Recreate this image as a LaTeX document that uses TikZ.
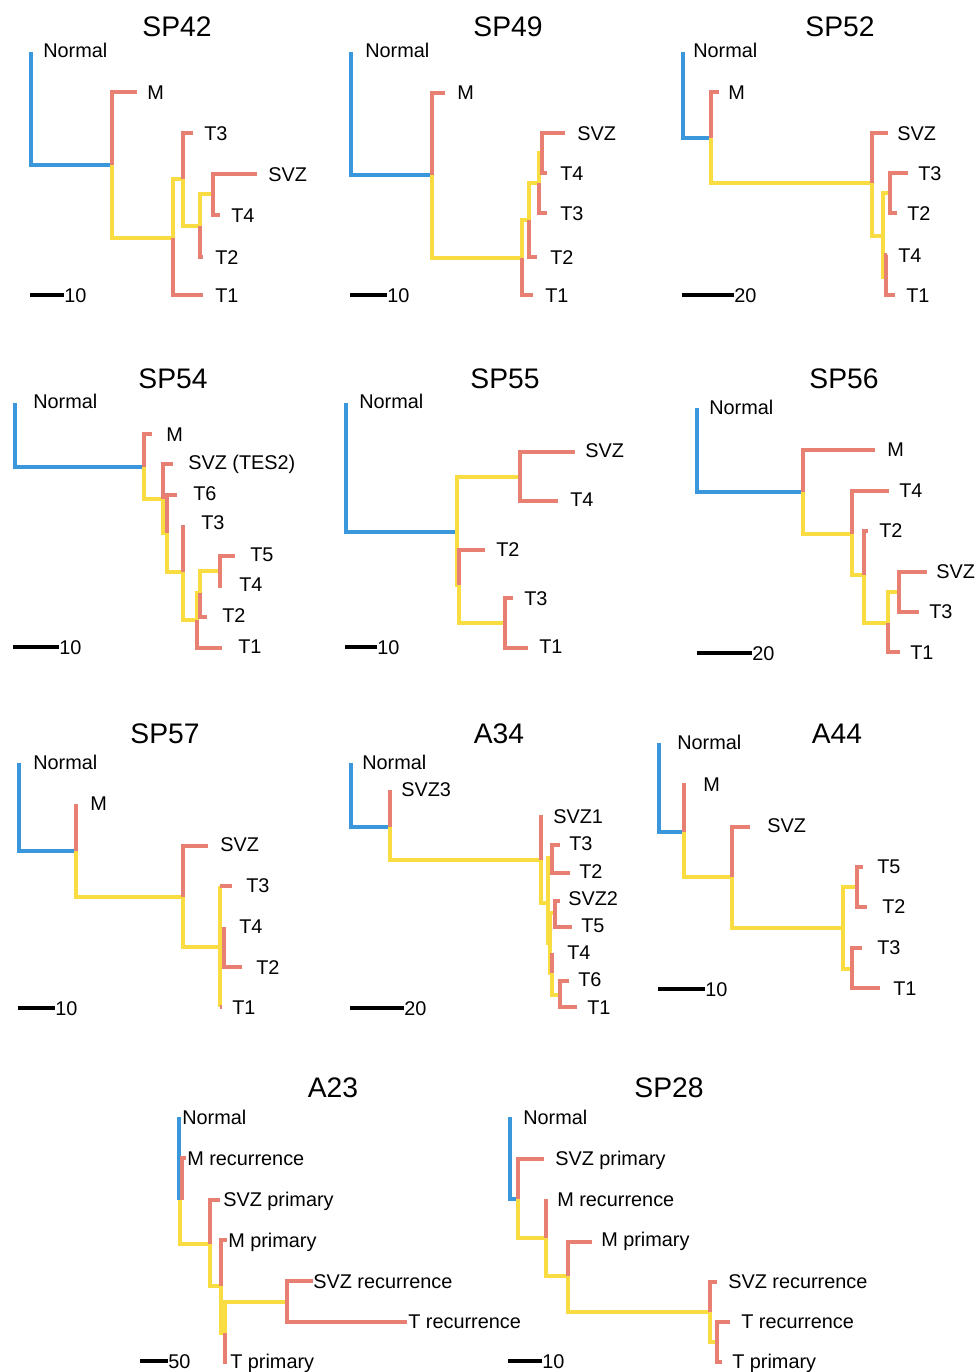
\documentclass[tikz,border=0pt]{standalone}
\usepackage{fontspec}
\setmainfont{Liberation Sans}
\usepackage{tikz}
\usepackage{xcolor}
\definecolor{nblue}{RGB}{58,151,219}
\definecolor{tsalmon}{RGB}{231,128,114}
\definecolor{ayellow}{RGB}{249,219,66}

\begin{document}
\begin{tikzpicture}[
    x=0.75pt, y=-0.75pt,
    br/.style={line width=2.4pt},
    nrm/.style={br, draw=nblue},
    tum/.style={br, draw=tsalmon},
    anc/.style={br, draw=ayellow},
    sbar/.style={line width=2.4pt, draw=black},
    lab/.style={anchor=west, inner sep=0pt, text height=10.6pt, text depth=0pt, font=\fontsize{14.9}{17}\selectfont},
    ttl/.style={anchor=center, inner sep=0pt, text height=15.2pt, text depth=0pt, font=\fontsize{21.2}{24}\selectfont}
]

\path[fill=white, use as bounding box] (0,0) rectangle (976,1372);

\node[ttl] (sp42) at (177,26) {SP42};
\draw[nrm] (112,165) -| (31,52);
\draw[tum] (112,165) |- (137,92);
\draw[anc] (112,165) |- (173,238);
\draw[tum] (173,238) |- (203,295);
\draw[anc] (173,238) |- (183,179);
\draw[tum] (183,179) |- (193,133);
\draw[anc] (183,179) |- (200,226);
\draw[tum] (200,226) |- (203,257);
\draw[anc] (200,226) |- (213,194);
\draw[tum] (213,194) |- (257,174);
\draw[tum] (213,194) |- (220,215);
\node[lab] (sp42n) at (43,50) {Normal};
\node[lab] (sp42m) at (147,92) {M};
\node[lab] (sp42t3) at (204,133) {T3};
\node[lab] (sp42svz) at (268,174) {SVZ};
\node[lab] (sp42t4) at (231,215) {T4};
\node[lab] (sp42t2) at (215,257) {T2};
\node[lab] (sp42t1) at (215,295) {T1};
\node[lab] (sp42s) at (64,295) {10};
\draw[sbar] (30,295) -- (sp42s.west);

\node[ttl] (sp49) at (508,26) {SP49};
\draw[nrm] (432,175) -| (351,52);
\draw[tum] (432,175) |- (445,93);
\draw[anc] (432,175) |- (522,258);
\draw[tum] (522,258) |- (533,295);
\draw[anc] (522,258) |- (529,220);
\draw[tum] (529,220) |- (537,257);
\draw[anc] (529,220) |- (539,183);
\draw[tum] (539,183) |- (547,213);
\draw[anc] (539,183) |- (542,153);
\draw[tum] (542,153) |- (565,133);
\draw[tum] (542,153) |- (547,173);
\node[lab] (sp49n) at (365,50) {Normal};
\node[lab] (sp49m) at (457,92) {M};
\node[lab] (sp49svz) at (577,133) {SVZ};
\node[lab] (sp49t4) at (560,173) {T4};
\node[lab] (sp49t3) at (560,213) {T3};
\node[lab] (sp49t2) at (550,257) {T2};
\node[lab] (sp49t1) at (545,295) {T1};
\node[lab] (sp49s) at (387,295) {10};
\draw[sbar] (350,295) -- (sp49s.west);

\node[ttl] (sp52) at (840,26) {SP52};
\draw[nrm] (711,138) -| (683,52);
\draw[tum] (711,138) |- (719,92);
\draw[anc] (711,138) |- (872,183);
\draw[tum] (872,183) |- (888,133);
\draw[anc] (872,183) |- (883,236);
\draw[anc] (883,236) |- (890,193);
\draw[tum] (890,193) |- (908,173);
\draw[tum] (890,193) |- (897,213);
\draw[anc] (883,236) |- (886,277);
\draw[tum] (886,277) |- (887,255);
\draw[tum] (886,277) |- (895,295);
\node[lab] (sp52n) at (693,50) {Normal};
\node[lab] (sp52m) at (728,92) {M};
\node[lab] (sp52svz) at (897,133) {SVZ};
\node[lab] (sp52t3) at (918,173) {T3};
\node[lab] (sp52t2) at (907,213) {T2};
\node[lab] (sp52t4) at (898,255) {T4};
\node[lab] (sp52t1) at (906,295) {T1};
\node[lab] (sp52s) at (734,295) {20};
\draw[sbar] (682,295) -- (sp52s.west);

\node[ttl] (sp54) at (173,378) {SP54};
\draw[nrm] (144,467) -| (15,403);
\draw[tum] (144,467) |- (152,434);
\draw[anc] (144,467) |- (163,499);
\draw[tum] (163,499) |- (173,464);
\draw[anc] (163,499) |- (167,533);
\draw[tum] (167,533) |- (177,495);
\draw[anc] (167,533) |- (183,572);
\draw[tum] (183,572) -- (183,525);
\draw[anc] (183,572) |- (197,620);
\draw[tum] (197,620) |- (222,648);
\draw[anc] (197,620) |- (200,593);
\draw[tum] (200,593) |- (207,617);
\draw[anc] (200,593) |- (220,571);
\draw[tum] (220,571) |- (235,556);
\draw[tum] (220,571) -- (220,588);
\node[lab] (sp54n) at (33,401) {Normal};
\node[lab] (sp54m) at (166,434) {M};
\node[lab] (sp54svz) at (188,462) {SVZ (TES2)};
\node[lab] (sp54t6) at (193,493) {T6};
\node[lab] (sp54t3) at (201,522) {T3};
\node[lab] (sp54t5) at (250,554) {T5};
\node[lab] (sp54t4) at (239,584) {T4};
\node[lab] (sp54t2) at (222,615) {T2};
\node[lab] (sp54t1) at (238,646) {T1};
\node[lab] (sp54s) at (59,647) {10};
\draw[sbar] (13,647) -- (sp54s.west);

\node[ttl] (sp55) at (505,378) {SP55};
\draw[nrm] (457,532) -| (346,403);
\draw[anc] (457,532) |- (520,477);
\draw[tum] (520,477) |- (575,452);
\draw[tum] (520,477) |- (558,501);
\draw[anc] (457,532) |- (459,585);
\draw[tum] (459,585) |- (485,550);
\draw[anc] (459,585) |- (505,623);
\draw[tum] (505,623) |- (513,598);
\draw[tum] (505,623) |- (528,648);
\node[lab] (sp55n) at (359,401) {Normal};
\node[lab] (sp55svz) at (585,450) {SVZ};
\node[lab] (sp55t4) at (570,499) {T4};
\node[lab] (sp55t2) at (496,549) {T2};
\node[lab] (sp55t3) at (524,598) {T3};
\node[lab] (sp55t1) at (539,646) {T1};
\node[lab] (sp55s) at (377,647) {10};
\draw[sbar] (345,647) -- (sp55s.west);

\node[ttl] (sp56) at (844,378) {SP56};
\draw[nrm] (803,492) -| (697,408);
\draw[tum] (803,492) |- (875,450);
\draw[anc] (803,492) |- (852,534);
\draw[tum] (852,534) |- (889,491);
\draw[anc] (852,534) |- (864,575);
\draw[tum] (864,575) |- (868,531);
\draw[anc] (864,575) |- (888,623);
\draw[anc] (888,623) |- (899,592);
\draw[tum] (899,592) |- (927,572);
\draw[tum] (899,592) |- (919,612);
\draw[tum] (888,623) |- (900,652);
\node[lab] (sp56n) at (709,407) {Normal};
\node[lab] (sp56m) at (887,449) {M};
\node[lab] (sp56t4) at (899,490) {T4};
\node[lab] (sp56t2) at (879,530) {T2};
\node[lab] (sp56svz) at (936,571) {SVZ};
\node[lab] (sp56t3) at (929,611) {T3};
\node[lab] (sp56t1) at (910,652) {T1};
\node[lab] (sp56s) at (752,653) {20};
\draw[sbar] (697,653) -- (sp56s.west);

\node[ttl] (sp57) at (165,733) {SP57};
\draw[nrm] (76,851) -| (19,763);
\draw[tum] (76,851) -- (76,804);
\draw[anc] (76,851) |- (183,897);
\draw[tum] (183,897) |- (208,846);
\draw[anc] (183,897) |- (220,947);
\draw[anc] (220,947) -- (220,886);
\draw[tum] (220,886) -- (232,886);
\draw[anc] (220,947) -- (220,1007);
\draw[tum] (220,1007) -- (222,1007);
\draw[anc] (220,947) -- (224,947);
\draw[tum] (224,947) -- (224,927);
\draw[tum] (224,947) |- (242,967);
\node[lab] (sp57n) at (33,762) {Normal};
\node[lab] (sp57m) at (90,803) {M};
\node[lab] (sp57svz) at (220,844) {SVZ};
\node[lab] (sp57t3) at (246,885) {T3};
\node[lab] (sp57t4) at (239,926) {T4};
\node[lab] (sp57t2) at (256,967) {T2};
\node[lab] (sp57t1) at (232,1007) {T1};
\node[lab] (sp57s) at (55,1008) {10};
\draw[sbar] (18,1008) -- (sp57s.west);

\node[ttl] (a34) at (499,733) {A34};
\draw[nrm] (390,827) -| (351,763);
\draw[tum] (390,827) -- (390,790);
\draw[anc] (390,827) |- (541,860);
\draw[tum] (541,860) |- (543,817);
\draw[anc] (541,860) |- (548,903);
\draw[anc] (548,903) |- (552,858);
\draw[tum] (552,858) |- (560,845);
\draw[tum] (552,858) |- (570,873);
\draw[anc] (548,903) |- (550,943);
\draw[anc] (550,943) |- (555,913);
\draw[tum] (555,913) |- (560,901);
\draw[tum] (555,913) |- (572,927);
\draw[anc] (550,943) |- (552,973);
\draw[tum] (552,973) -- (552,953);
\draw[anc] (552,973) |- (560,995);
\draw[tum] (560,995) |- (569,981);
\draw[tum] (560,995) |- (577,1007);
\node[lab] (a34n) at (362,762) {Normal};
\node[lab] (a34svz3) at (401,789) {SVZ3};
\node[lab] (a34svz1) at (553,816) {SVZ1};
\node[lab] (a34t3) at (569,843) {T3};
\node[lab] (a34t2) at (579,871) {T2};
\node[lab] (a34svz2) at (568,898) {SVZ2};
\node[lab] (a34t5) at (581,925) {T5};
\node[lab] (a34t4) at (567,952) {T4};
\node[lab] (a34t6) at (578,979) {T6};
\node[lab] (a34t1) at (587,1007) {T1};
\node[lab] (a34s) at (404,1008) {20};
\draw[sbar] (350,1008) -- (a34s.west);

\node[ttl] (a44) at (837,733) {A44};
\draw[nrm] (684,832) -| (659,743);
\draw[tum] (684,832) |- (686,785);
\draw[anc] (684,832) |- (732,877);
\draw[tum] (732,877) |- (750,827);
\draw[anc] (732,877) |- (843,928);
\draw[anc] (843,928) |- (857,887);
\draw[tum] (857,887) |- (863,867);
\draw[tum] (857,887) |- (867,907);
\draw[anc] (843,928) |- (852,969);
\draw[tum] (852,969) |- (862,948);
\draw[tum] (852,969) |- (880,988);
\node[lab] (a44n) at (677,742) {Normal};
\node[lab] (a44m) at (703,784) {M};
\node[lab] (a44svz) at (767,825) {SVZ};
\node[lab] (a44t5) at (877,866) {T5};
\node[lab] (a44t2) at (882,906) {T2};
\node[lab] (a44t3) at (877,947) {T3};
\node[lab] (a44t1) at (893,988) {T1};
\node[lab] (a44s) at (705,989) {10};
\draw[sbar] (658,989) -- (a44s.west);

\node[ttl] (a23) at (333,1087) {A23};
\draw[nrm] (179,1200) -- (179,1117);
\draw[tum] (182,1200) |- (186,1158);
\draw[anc] (180,1200) |- (210,1244);
\draw[tum] (210,1244) |- (220,1200);
\draw[anc] (210,1244) |- (221,1286);
\draw[tum] (221,1286) |- (227,1240);
\draw[anc] (221,1286) |- (225,1333);
\draw[anc] (225,1333) |- (287,1302);
\draw[tum] (287,1302) |- (313,1281);
\draw[tum] (287,1302) |- (407,1322);
\draw[tum] (225,1333) |- (227,1362);
\node[lab] (a23n) at (182,1117) {Normal};
\node[lab] (a23mr) at (187,1158) {M recurrence};
\node[lab] (a23sp) at (223,1199) {SVZ primary};
\node[lab] (a23mp) at (228,1240) {M primary};
\node[lab] (a23sr) at (313,1281) {SVZ recurrence};
\node[lab] (a23tr) at (408,1321) {T recurrence};
\node[lab] (a23tp) at (230,1361) {T primary};
\node[lab] (a23s) at (168,1361) {50};
\draw[sbar] (140,1361) -- (a23s.west);

\node[ttl] (sp28) at (669,1087) {SP28};
\draw[nrm] (518,1199) -| (510,1117);
\draw[tum] (518,1199) |- (544,1159);
\draw[anc] (518,1199) |- (546,1238);
\draw[tum] (546,1238) -- (546,1199);
\draw[anc] (546,1238) |- (568,1276);
\draw[tum] (568,1276) |- (592,1242);
\draw[anc] (568,1276) |- (710,1312);
\draw[tum] (710,1312) |- (717,1282);
\draw[anc] (710,1312) |- (717,1342);
\draw[tum] (717,1342) |- (730,1322);
\draw[tum] (717,1342) |- (722,1362);
\node[lab] (sp28n) at (523,1117) {Normal};
\node[lab] (sp28sp) at (555,1158) {SVZ primary};
\node[lab] (sp28mr) at (557,1199) {M recurrence};
\node[lab] (sp28mp) at (601,1239) {M primary};
\node[lab] (sp28sr) at (728,1281) {SVZ recurrence};
\node[lab] (sp28tr) at (741,1321) {T recurrence};
\node[lab] (sp28tp) at (732,1361) {T primary};
\node[lab] (sp28s) at (542,1361) {10};
\draw[sbar] (508,1361) -- (sp28s.west);

\end{tikzpicture}
\end{document}
